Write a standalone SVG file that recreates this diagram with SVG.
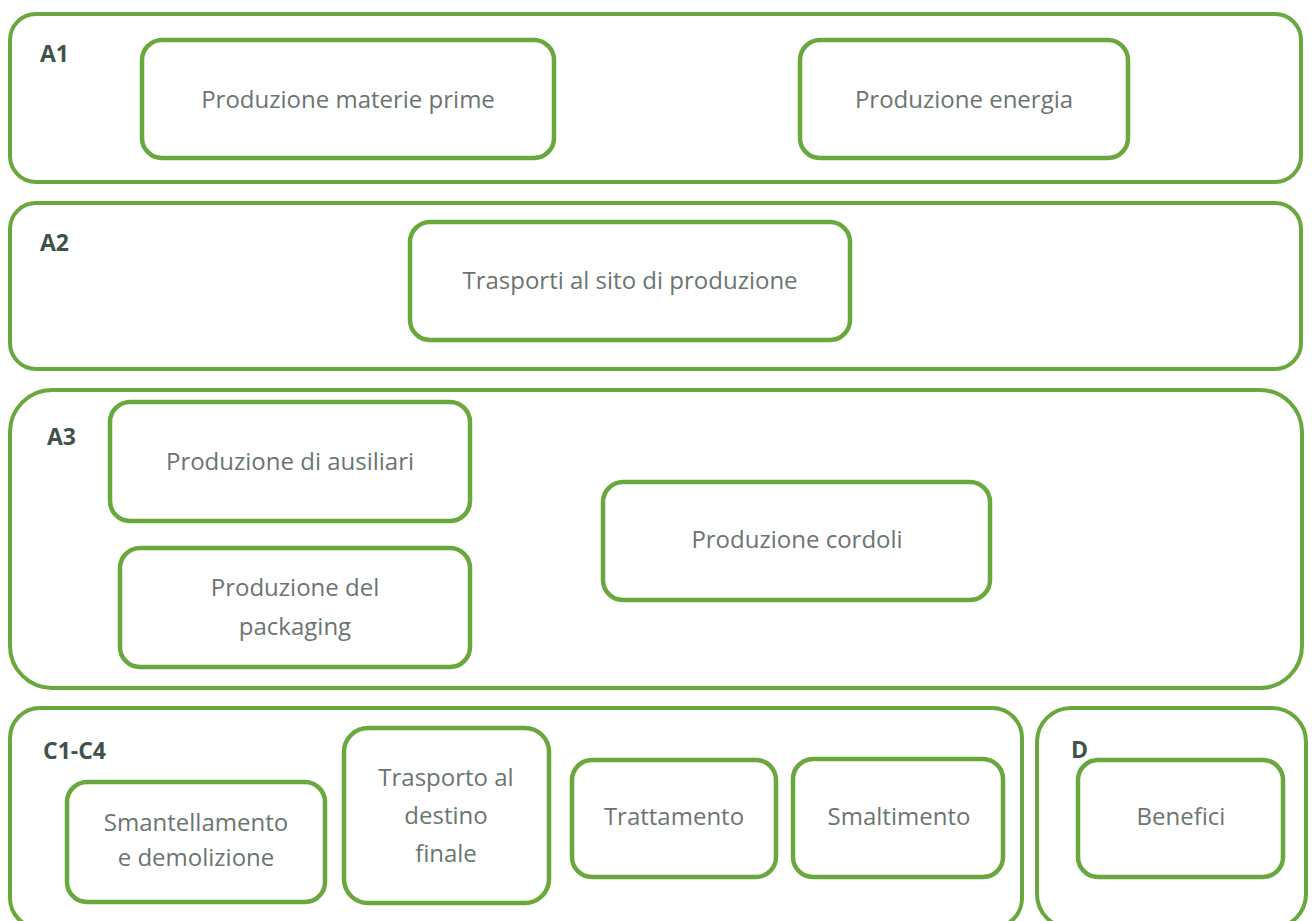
<svg xmlns="http://www.w3.org/2000/svg" width="1312" height="921" viewBox="0 0 1312 921">
<style>
.outer{fill:#fff;stroke:#68a83c;stroke-width:4}
.inner{fill:#fff;stroke:#68a83c;stroke-width:4.5}
.t{font-family:"Open Sans","Liberation Sans",sans-serif;font-size:24px;fill:#6b7570;text-anchor:middle}
.lbl{font-family:"Open Sans","Liberation Sans",sans-serif;font-size:23px;font-weight:bold;fill:#3f5348}
</style>
<rect width="1312" height="921" fill="#fff"/>
<g id="A1">
<rect class="outer" x="10" y="14" width="1291" height="168" rx="26"/>
<text class="lbl" x="40" y="62">A1</text>
</g>
<g id="materie">
<rect class="inner" x="142" y="40" width="412" height="118" rx="20"/>
<text class="t" x="348" y="108">Produzione materie prime</text>
</g>
<g id="energia">
<rect class="inner" x="800" y="40" width="328" height="118" rx="20"/>
<text class="t" x="964" y="108">Produzione energia</text>
</g>
<g id="A2">
<rect class="outer" x="10" y="203" width="1291" height="166" rx="26"/>
<text class="lbl" x="40" y="251">A2</text>
</g>
<g id="trasporti">
<rect class="inner" x="410" y="222" width="440" height="118" rx="20"/>
<text class="t" x="630" y="289">Trasporti al sito di produzione</text>
</g>
<g id="A3">
<rect class="outer" x="10" y="390" width="1292" height="298" rx="42"/>
<text class="lbl" x="47" y="445">A3</text>
</g>
<g id="ausiliari">
<rect class="inner" x="110" y="402" width="360" height="119" rx="20"/>
<text class="t" x="290" y="470">Produzione di ausiliari</text>
</g>
<g id="packaging">
<rect class="inner" x="120" y="548" width="350" height="119" rx="20"/>
<text class="t" x="295" y="596">Produzione del</text>
<text class="t" x="295" y="635">packaging</text>
</g>
<g id="cordoli">
<rect class="inner" x="603" y="482" width="387" height="118" rx="20"/>
<text class="t" x="797" y="548">Produzione cordoli</text>
</g>
<g id="C1C4">
<rect class="outer" x="10" y="708" width="1012" height="220" rx="30"/>
<text class="lbl" x="43" y="759">C1-C4</text>
</g>
<g id="smantellamento">
<rect class="inner" x="67" y="782" width="258" height="120" rx="20"/>
<text class="t" x="196" y="831">Smantellamento</text>
<text class="t" x="196" y="866">e demolizione</text>
</g>
<g id="trasporto">
<rect class="inner" x="344" y="728" width="205" height="175" rx="24"/>
<text class="t" x="446" y="786">Trasporto al</text>
<text class="t" x="446" y="824">destino</text>
<text class="t" x="446" y="862">finale</text>
</g>
<g id="trattamento">
<rect class="inner" x="572" y="760" width="204" height="117" rx="20"/>
<text class="t" x="674" y="825">Trattamento</text>
</g>
<g id="smaltimento">
<rect class="inner" x="793" y="759" width="210" height="118" rx="20"/>
<text class="t" x="899" y="825">Smaltimento</text>
</g>
<g id="D">
<rect class="outer" x="1037" y="708" width="269" height="220" rx="34"/>
</g>
<g id="benefici">
<rect class="inner" x="1078" y="760" width="205" height="117" rx="20"/>
<text class="t" x="1181" y="825">Benefici</text>
</g>
<text class="lbl" x="1071" y="758">D</text>
<g id="connectors"/>
</svg>
